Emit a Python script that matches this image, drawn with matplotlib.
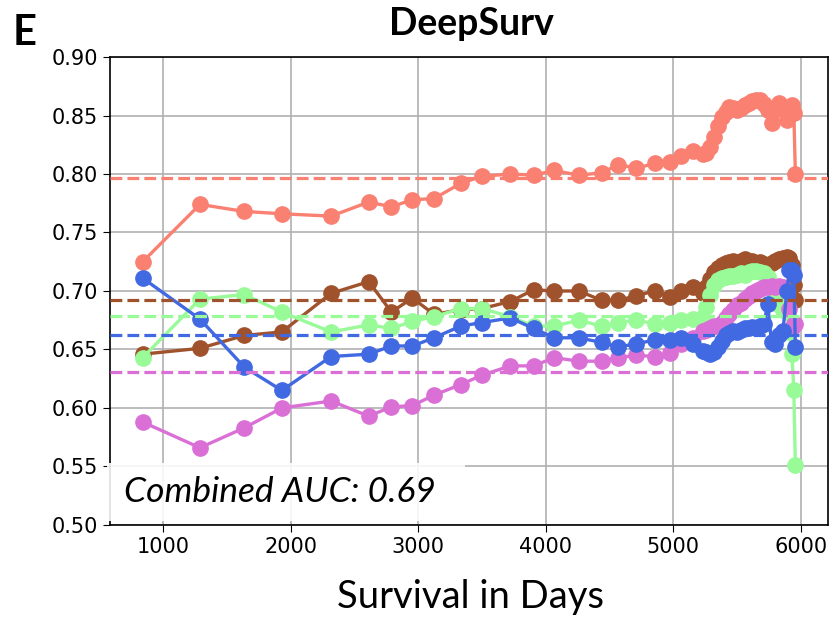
import numpy as np
import matplotlib
matplotlib.use("Agg")
import matplotlib.pyplot as plt
from matplotlib.patches import Rectangle

# Waktu survival (hari)
days = [841, 1290, 1637, 1932, 2318, 2613, 2791, 2955, 3125, 3334, 3500, 3723,
        3905, 4067, 4260, 4438, 4569, 4710, 4855, 4976, 5059, 5153, 5231,
        5260, 5290, 5320, 5350, 5380, 5410, 5440, 5470, 5500, 5530, 5560, 5590,
        5620, 5650, 5680, 5710, 5740, 5770, 5800, 5830, 5860, 5890, 5910, 5930,
        5945, 5957]

auc_salmon = [0.725, 0.774, 0.768, 0.766, 0.764, 0.776, 0.772, 0.778, 0.779, 0.792, 0.798, 0.800,
              0.799, 0.803, 0.799, 0.801, 0.808, 0.805, 0.809, 0.810, 0.815, 0.820, 0.817,
              0.818, 0.823, 0.832, 0.841, 0.849, 0.853, 0.857, 0.856, 0.855, 0.856, 0.859, 0.861,
              0.862, 0.863, 0.863, 0.860, 0.855, 0.844, 0.855, 0.861, 0.857, 0.846, 0.855, 0.859,
              0.852, 0.800]
auc_brown = [0.646, 0.651, 0.662, 0.665, 0.698, 0.708, 0.682, 0.694, 0.680, 0.684, 0.685, 0.691,
             0.701, 0.700, 0.700, 0.692, 0.692, 0.696, 0.700, 0.695, 0.700, 0.703, 0.698,
             0.703, 0.710, 0.716, 0.720, 0.722, 0.724, 0.725, 0.726, 0.724, 0.726, 0.727, 0.725,
             0.726, 0.724, 0.725, 0.723, 0.722, 0.724, 0.726, 0.727, 0.728, 0.729, 0.728, 0.722,
             0.705, 0.692]
auc_green = [0.643, 0.693, 0.697, 0.682, 0.665, 0.671, 0.668, 0.674, 0.678, 0.685, 0.685, 0.678,
             0.670, 0.670, 0.675, 0.670, 0.673, 0.675, 0.672, 0.673, 0.675, 0.676, 0.678,
             0.686, 0.697, 0.705, 0.709, 0.711, 0.712, 0.713, 0.713, 0.714, 0.715, 0.714, 0.716,
             0.717, 0.717, 0.716, 0.715, 0.712, 0.703, 0.695, 0.688, 0.684, 0.682, 0.665, 0.646,
             0.615, 0.551]
auc_orchid = [0.588, 0.566, 0.583, 0.600, 0.606, 0.593, 0.601, 0.602, 0.611, 0.620, 0.628, 0.636,
              0.636, 0.643, 0.640, 0.640, 0.643, 0.645, 0.644, 0.647, 0.655, 0.660, 0.666,
              0.667, 0.668, 0.670, 0.670, 0.673, 0.677, 0.680, 0.684, 0.688, 0.690, 0.693, 0.696,
              0.698, 0.700, 0.702, 0.703, 0.703, 0.704, 0.703, 0.704, 0.703, 0.700, 0.685, 0.668,
              0.672, 0.672]
auc_blue = [0.711, 0.676, 0.635, 0.615, 0.644, 0.646, 0.653, 0.653, 0.660, 0.670, 0.673, 0.677,
            0.668, 0.660, 0.660, 0.656, 0.652, 0.655, 0.658, 0.658, 0.660, 0.655, 0.649,
            0.648, 0.646, 0.648, 0.652, 0.657, 0.662, 0.664, 0.666, 0.665, 0.667, 0.668, 0.668,
            0.669, 0.668, 0.670, 0.672, 0.689, 0.656, 0.655, 0.662, 0.666, 0.700, 0.718, 0.718,
            0.714, 0.652]

series = [auc_salmon, auc_brown, auc_green, auc_orchid, auc_blue]
mean_auc = [0.797, 0.692, 0.679, 0.631, 0.662]
colors = ['#FA8072', '#A0522D', '#98FB98', '#DA70D6', '#4169E1']
yticks = [0.50, 0.55, 0.60, 0.65, 0.70, 0.75, 0.80, 0.85, 0.90]
xticks = [1000, 2000, 3000, 4000, 5000, 6000]

fig = plt.figure(figsize=(8.31, 6.19), dpi=100)
ax = fig.add_axes([0.1324, 0.1519, 0.864, 0.756])

for vals, c in zip(series, colors):
    ax.plot(days, vals, '-o', color=c, lw=2.4, markersize=11, zorder=2)
for m, c in zip(mean_auc, colors):
    ax.axhline(m, color=c, ls='--', lw=2.3, zorder=3)

ax.set_ylim(0.5, 0.9)
ax.set_yticks(yticks)
ax.set_xticks(xticks)
ax.grid(True, color='#b0b0b0', lw=1.2)
ax.set_axisbelow(True)
ax.tick_params(labelsize=15, length=5)
for s in ax.spines.values():
    s.set_linewidth(1.2)

# kotak AUC gabungan
ax.add_patch(Rectangle((-0.004, 0.008), 0.498, 0.124, transform=ax.transAxes,
                       facecolor='white', edgecolor='none', alpha=0.88,
                       zorder=5, clip_on=False))
ax.text(0.02, 0.07, 'Combined AUC: 0.69', transform=ax.transAxes, fontsize=25.5,
        fontstyle='italic', family='Lato', va='center', ha='left', zorder=6)

fig.text(0.567, 0.962, 'DeepSurv', fontsize=27, fontweight='bold', family='Lato',
         ha='center', va='center')
fig.text(0.030, 0.946, 'E', fontsize=30, fontweight='bold', family='Lato',
         ha='center', va='center')
fig.text(0.566, 0.035, 'Survival in Days', fontsize=27.5, family='Lato',
         ha='center', va='center')

fig.savefig('out.png', dpi=100)
